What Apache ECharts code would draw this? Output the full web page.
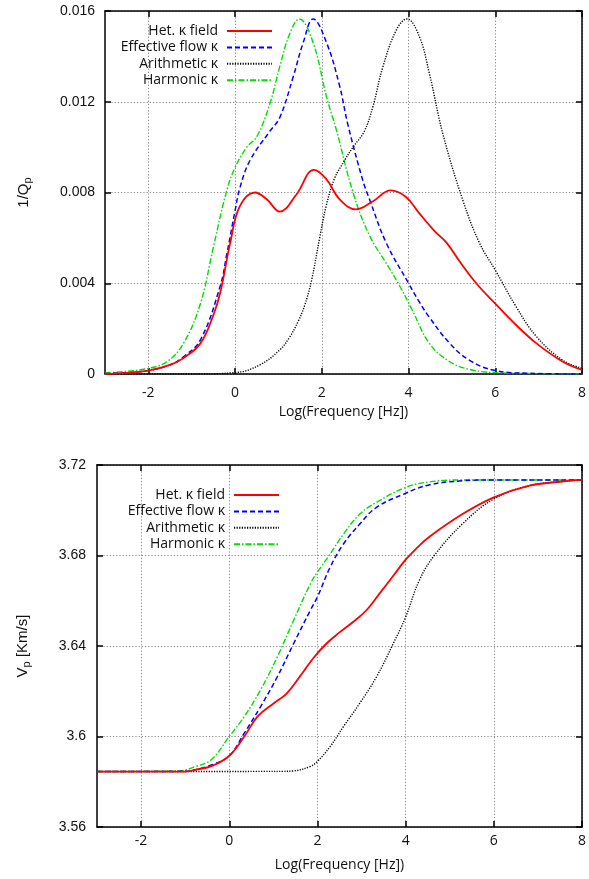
<!DOCTYPE html>
<html><head><meta charset="utf-8">
<script src="https://cdn.jsdelivr.net/npm/echarts@6/dist/echarts.min.js"></script>
<style>html,body{margin:0;padding:0;background:#fff}#c{width:589px;height:879px}</style>
</head><body><div id="c"></div>
<script>
// ---------- data ----------
const seriesNames = ['Het. κ field', 'Effective flow κ', 'Arithmetic κ', 'Harmonic κ'];
const xTicks = [-2, 0, 2, 4, 6, 8];
const qTicks = [0, 0.004, 0.008, 0.012, 0.016];
const vTicks = [3.56, 3.6, 3.64, 3.68, 3.72];

// Top panel: 1/Qp vs log frequency
const qHet = [[-3,0],[-2.5,0.00005],[-2,0.00015],[-1.5,0.0004],[-1.19,0.0007],[-0.8,0.00135],[-0.5,0.0026],[-0.34,0.0036],[-0.11,0.0058],[0.11,0.0074],[0.46,0.0080],[0.73,0.0077],[1.03,0.00716],[1.41,0.0079],[1.82,0.0090],[2.1,0.0086],[2.41,0.0077],[2.79,0.00726],[3.17,0.0076],[3.59,0.00809],[3.94,0.0078],[4.24,0.0071],[4.6,0.0063],[4.87,0.0058],[5.2,0.0049],[5.56,0.0040],[6,0.0031],[6.48,0.00216],[6.95,0.00135],[7.56,0.00054],[8,0.00018]];
const qEff = [[-3,0.00002],[-2.5,0.00006],[-2,0.00015],[-1.5,0.0004],[-1.19,0.00076],[-0.8,0.0015],[-0.34,0.0039],[-0.19,0.0053],[0,0.0072],[0.11,0.0082],[0.34,0.0094],[0.8,0.0107],[1.03,0.0113],[1.34,0.0131],[1.57,0.0146],[1.8,0.01565],[2.11,0.0146],[2.41,0.0127],[2.6,0.0110],[2.95,0.0085],[3.1,0.0077],[3.48,0.0058],[4,0.0040],[4.24,0.0032],[4.48,0.0025],[4.95,0.00135],[5.41,0.0006],[6,0.00015],[6.8,0.00003],[8,0]];
const qArith = [[-3,0],[-1,0],[0,0.00006],[0.57,0.0004],[1.03,0.00106],[1.25,0.0016],[1.45,0.0023],[1.6,0.0030],[1.76,0.0041],[1.95,0.0060],[2.1,0.0074],[2.29,0.0086],[2.52,0.0094],[2.72,0.0100],[2.98,0.0107],[3.18,0.0118],[3.41,0.01355],[3.72,0.01517],[3.96,0.01565],[4.25,0.01487],[4.48,0.01325],[4.79,0.0106],[5.25,0.00767],[5.64,0.00576],[6,0.00458],[6.48,0.00297],[6.95,0.00165],[7.56,0.0006],[8,0.00025]];
const qHarm = [[-3,0.00005],[-2.5,0.00012],[-2,0.00025],[-1.57,0.00054],[-1.19,0.00135],[-0.8,0.0031],[-0.5,0.0056],[-0.19,0.0081],[0,0.0091],[0.27,0.0100],[0.5,0.01046],[0.8,0.0119],[1.03,0.01355],[1.26,0.0150],[1.48,0.01565],[1.8,0.0146],[2.11,0.0122],[2.33,0.0108],[2.72,0.0080],[3.1,0.0061],[3.48,0.0049],[3.79,0.0039],[4.09,0.0028],[4.48,0.00135],[4.95,0.00054],[5.41,0.0002],[6,0.00006],[8,0]];

// Bottom panel: Vp [Km/s] vs log frequency
const vHet = [[-3,3.5845],[-1,3.5845],[-0.77,3.5853],[-0.39,3.587],[0,3.5915],[0.34,3.600],[0.64,3.6088],[1.01,3.6147],[1.3,3.619],[1.6,3.6265],[1.9,3.6345],[2.2,3.641],[2.5,3.646],[2.8,3.6505],[3.11,3.6558],[3.42,3.6635],[3.75,3.6718],[4,3.6782],[4.27,3.6836],[4.54,3.6883],[5.29,3.6983],[6,3.7057],[6.79,3.7108],[7.54,3.7127],[8,3.7134]];
const vEff = [[-3,3.5845],[-1,3.5846],[-0.77,3.5853],[-0.39,3.5875],[0,3.5915],[0.34,3.6015],[0.71,3.6132],[1.09,3.6264],[1.46,3.6411],[1.84,3.6558],[2,3.6617],[2.29,3.6749],[2.59,3.6851],[2.96,3.6939],[3.34,3.7013],[4,3.7075],[4.53,3.7112],[5.28,3.7130],[6,3.7134],[8,3.7134]];
const vArith = [[-3,3.5845],[1.19,3.5846],[1.46,3.5848],[1.84,3.5868],[2,3.589],[2.29,3.5956],[2.59,3.6044],[2.96,3.6147],[3.34,3.6264],[3.72,3.6411],[4,3.6528],[4.31,3.669],[4.65,3.68],[5.29,3.694],[6,3.705],[6.79,3.7108],[7.54,3.7127],[8,3.7134]];
const vHarm = [[-3,3.5845],[-1.14,3.5848],[-0.77,3.5867],[-0.41,3.5897],[0,3.600],[0.34,3.6088],[0.71,3.6206],[1.09,3.6352],[1.46,3.6514],[1.84,3.6675],[2,3.6727],[2.29,3.6807],[2.59,3.6895],[2.96,3.6983],[3.34,3.7035],[4,3.7101],[4.53,3.7125],[5.28,3.7134],[8,3.7134]];

// ---------- styles ----------
const FONT = 'Liberation Sans';
const LFONT = 'Open Sans';
const colors = ['#ff0000', '#0000ff', '#000000', '#00dd00'];
const dashes = ['solid', [5, 3], [1.2, 1.4], [6, 2, 1.5, 2]];
const widths = [1.8, 1.5, 1.4, 1.4];

const chart = echarts.init(document.getElementById('c'), null, {renderer: 'canvas'});

function xAxes(grid, name, nameGap, labelMargin) {
  return [
    { type: 'value', gridIndex: grid, min: -3, max: 8, position: 'bottom',
      name: name, nameLocation: 'middle', nameGap: nameGap,
      nameTextStyle: {fontFamily: LFONT, fontSize: 14, color: '#111'},
      axisLine: {show: true, onZero: false, lineStyle: {color: '#000', width: 1.5}},
      axisTick: {show: true, inside: true, length: 6, lineStyle: {color: '#000', width: 1.5}, customValues: xTicks},
      axisLabel: {show: true, margin: labelMargin, fontFamily: LFONT, fontSize: 14, color: '#111', customValues: xTicks},
      splitLine: {show: true, lineStyle: {color: '#888', type: [1.2, 2], width: 1}},
      minorTick: {show: false}
    },
    { type: 'value', gridIndex: grid, min: -3, max: 8, position: 'top',
      axisLine: {show: true, onZero: false, lineStyle: {color: '#000', width: 1.5}},
      axisTick: {show: true, inside: true, length: 6, lineStyle: {color: '#000', width: 1.5}, customValues: xTicks},
      axisLabel: {show: false}, splitLine: {show: false}
    }
  ];
}

function yAxes(grid, min, max, interval, ticks, name, nameGap, labelMargin) {
  return [
    { type: 'value', gridIndex: grid, min: min, max: max, interval: interval, position: 'left',
      name: name, nameLocation: 'middle', nameGap: nameGap, nameRotate: 90,
      nameTextStyle: {fontFamily: FONT, fontSize: 15, color: '#111',
        rich: {m: {fontFamily: FONT, fontSize: 15, color: '#111'},
               s: {fontFamily: FONT, fontSize: 11, color: '#111', padding: [8, 0, 0, 0]}}},
      axisLine: {show: true, onZero: false, lineStyle: {color: '#000', width: 1.5}},
      axisTick: {show: true, inside: true, length: 6, lineStyle: {color: '#000', width: 1.5}},
      axisLabel: {show: true, margin: labelMargin, fontFamily: FONT, fontSize: 14, color: '#111'},
      splitLine: {show: true, lineStyle: {color: '#888', type: [1.2, 2], width: 1}}
    },
    { type: 'value', gridIndex: grid, min: min, max: max, interval: interval, position: 'right',
      axisLine: {show: true, onZero: false, lineStyle: {color: '#000', width: 1.5}},
      axisTick: {show: true, inside: true, length: 6, lineStyle: {color: '#000', width: 1.5}},
      axisLabel: {show: false}, splitLine: {show: false}
    }
  ];
}

const topData = [qHet, qEff, qArith, qHarm];
const botData = [vHet, vEff, vArith, vHarm];

function mkSeries(dataList, xi, yi) {
  return dataList.map((d, i) => ({
    type: 'line', name: seriesNames[i], xAxisIndex: xi, yAxisIndex: yi,
    data: d, smooth: 0.4, symbol: 'none', showSymbol: false, z: 10 - i,
    lineStyle: {color: colors[i], width: widths[i], type: dashes[i]},
    itemStyle: {color: colors[i]}, animation: false
  }));
}

function mkLegend(right, top) {
  return {
    orient: 'vertical', align: 'right', right: right, top: top,
    itemWidth: 45, itemHeight: 12, itemGap: 2.4, padding: 0,
    data: seriesNames,
    itemStyle: {opacity: 0},
    textStyle: {fontFamily: LFONT, fontSize: 14, color: '#111', padding: [0, 4, 0, 0]},
    selectedMode: false
  };
}

const option = {
  backgroundColor: '#fff',
  animation: false,
  grid: [
    {left: 105, right: 6, top: 11, height: 363},
    {left: 97, right: 6, top: 465, height: 362}
  ],
  legend: [mkLegend(316, 24), mkLegend(309, 488)],
  xAxis: [].concat(xAxes(0, 'Log(Frequency [Hz])', 31, 12), xAxes(1, 'Log(Frequency [Hz])', 31, 7)),
  yAxis: [].concat(
    yAxes(0, 0, 0.016, 0.004, qTicks, '{m|1/Q}{s|p}', 72, 10),
    yAxes(1, 3.56, 3.72, 0.04, vTicks, '{m|V}{s|p}{m| [Km/s]}', 65, 11)
  ),
  series: [].concat(mkSeries(topData, 0, 0), mkSeries(botData, 2, 2))
};
chart.setOption(option);
</script></body></html>
